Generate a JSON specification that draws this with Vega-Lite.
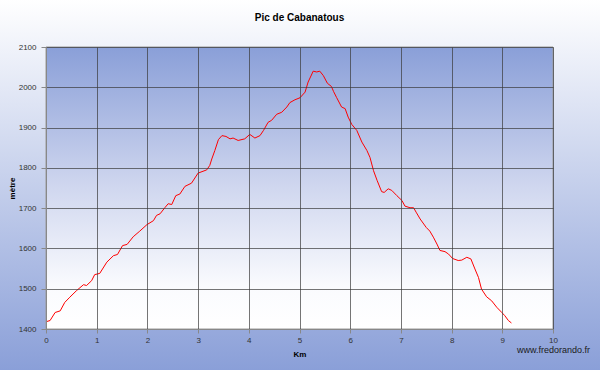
{
  "$schema": "https://vega.github.io/schema/vega-lite/v6.json",
  "width": 507,
  "height": 282,
  "autosize": {"type": "none"},
  "padding": {"left": 46, "top": 47, "right": 47, "bottom": 41},
  "background": "#ffffff",
  "title": {
    "text": "Pic de Cabanatous",
    "fontSize": 10,
    "fontWeight": "bold",
    "font": "Liberation Sans",
    "color": "#000000",
    "anchor": "middle",
    "frame": "group",
    "offset": -24
  },
  "config": {
    "view": {"stroke": null},
    "axis": {
      "labelFont": "Liberation Sans",
      "labelFontSize": 8,
      "labelColor": "#333333",
      "titleFont": "Liberation Sans",
      "titleFontSize": 8,
      "titleFontWeight": "bold",
      "titleColor": "#000000",
      "domainColor": "#888888",
      "tickColor": "#888888",
      "gridColor": "#3a3a3a",
      "gridOpacity": 0.7,
      "gridWidth": 1
    }
  },
  "data": {
    "values": [
      {"km": 0.00, "alt": 1418}, {"km": 0.08, "alt": 1421}, {"km": 0.18, "alt": 1441},
      {"km": 0.28, "alt": 1445}, {"km": 0.37, "alt": 1466}, {"km": 0.47, "alt": 1479},
      {"km": 0.60, "alt": 1495}, {"km": 0.74, "alt": 1510}, {"km": 0.80, "alt": 1508},
      {"km": 0.90, "alt": 1520}, {"km": 0.96, "alt": 1535}, {"km": 1.06, "alt": 1538},
      {"km": 1.20, "alt": 1566}, {"km": 1.33, "alt": 1582}, {"km": 1.41, "alt": 1585},
      {"km": 1.51, "alt": 1607}, {"km": 1.60, "alt": 1610}, {"km": 1.72, "alt": 1629},
      {"km": 1.85, "alt": 1643}, {"km": 1.99, "alt": 1659}, {"km": 2.12, "alt": 1669},
      {"km": 2.18, "alt": 1682}, {"km": 2.25, "alt": 1686}, {"km": 2.35, "alt": 1702},
      {"km": 2.41, "alt": 1711}, {"km": 2.48, "alt": 1709}, {"km": 2.56, "alt": 1731},
      {"km": 2.64, "alt": 1735}, {"km": 2.74, "alt": 1754}, {"km": 2.87, "alt": 1762},
      {"km": 3.00, "alt": 1787}, {"km": 3.17, "alt": 1795}, {"km": 3.23, "alt": 1806},
      {"km": 3.27, "alt": 1822}, {"km": 3.33, "alt": 1843}, {"km": 3.40, "alt": 1870},
      {"km": 3.47, "alt": 1880}, {"km": 3.55, "alt": 1878}, {"km": 3.63, "alt": 1872},
      {"km": 3.69, "alt": 1874}, {"km": 3.79, "alt": 1868}, {"km": 3.92, "alt": 1872},
      {"km": 4.02, "alt": 1883}, {"km": 4.12, "alt": 1874}, {"km": 4.22, "alt": 1880},
      {"km": 4.29, "alt": 1893}, {"km": 4.38, "alt": 1913}, {"km": 4.45, "alt": 1918},
      {"km": 4.55, "alt": 1933}, {"km": 4.65, "alt": 1938}, {"km": 4.75, "alt": 1951},
      {"km": 4.81, "alt": 1962}, {"km": 4.91, "alt": 1969}, {"km": 5.01, "alt": 1974},
      {"km": 5.11, "alt": 1988}, {"km": 5.17, "alt": 2013}, {"km": 5.27, "alt": 2040},
      {"km": 5.34, "alt": 2038}, {"km": 5.40, "alt": 2040}, {"km": 5.47, "alt": 2029},
      {"km": 5.55, "alt": 2010}, {"km": 5.63, "alt": 2002}, {"km": 5.67, "alt": 1990},
      {"km": 5.73, "alt": 1975}, {"km": 5.83, "alt": 1951}, {"km": 5.90, "alt": 1947},
      {"km": 5.96, "alt": 1926}, {"km": 6.03, "alt": 1908}, {"km": 6.13, "alt": 1893},
      {"km": 6.23, "alt": 1864}, {"km": 6.33, "alt": 1843}, {"km": 6.39, "alt": 1826},
      {"km": 6.46, "alt": 1793}, {"km": 6.53, "alt": 1769}, {"km": 6.62, "alt": 1741},
      {"km": 6.67, "alt": 1739}, {"km": 6.75, "alt": 1748}, {"km": 6.82, "alt": 1744},
      {"km": 6.92, "alt": 1731}, {"km": 7.02, "alt": 1719}, {"km": 7.08, "alt": 1705},
      {"km": 7.18, "alt": 1701}, {"km": 7.25, "alt": 1701}, {"km": 7.30, "alt": 1690},
      {"km": 7.38, "alt": 1673}, {"km": 7.50, "alt": 1652}, {"km": 7.57, "alt": 1643},
      {"km": 7.64, "alt": 1628}, {"km": 7.71, "alt": 1611}, {"km": 7.77, "alt": 1595},
      {"km": 7.87, "alt": 1592}, {"km": 7.94, "alt": 1586}, {"km": 8.02, "alt": 1575},
      {"km": 8.13, "alt": 1570}, {"km": 8.20, "alt": 1571}, {"km": 8.30, "alt": 1578},
      {"km": 8.38, "alt": 1574}, {"km": 8.46, "alt": 1549}, {"km": 8.53, "alt": 1528},
      {"km": 8.59, "alt": 1499}, {"km": 8.69, "alt": 1480}, {"km": 8.79, "alt": 1470},
      {"km": 8.89, "alt": 1454}, {"km": 8.99, "alt": 1441}, {"km": 9.05, "alt": 1433},
      {"km": 9.12, "alt": 1421}, {"km": 9.18, "alt": 1415}
    ]
  },
  "layer": [
    {
      "data": {"values": [{}]},
      "mark": {
        "type": "rect",
        "clip": false,
        "fill": {
          "gradient": "linear", "x1": 0, "y1": 0, "x2": 0, "y2": 1,
          "stops": [
            {"offset": 0, "color": "#ffffff"},
            {"offset": 1, "color": "#8a9fd8"}
          ]
        }
      },
      "encoding": {
        "x": {"datum": -0.91, "type": "quantitative"},
        "x2": {"datum": 10.93},
        "y": {"datum": 2218, "type": "quantitative"},
        "y2": {"datum": 1297}
      }
    },
    {
      "data": {"values": [{}]},
      "mark": {
        "type": "rect",
        "stroke": "#9a9a9a",
        "strokeWidth": 1,
        "fill": {
          "gradient": "linear", "x1": 0, "y1": 0, "x2": 0, "y2": 1,
          "stops": [
            {"offset": 0, "color": "#8a9fd8"},
            {"offset": 0.5, "color": "#d0d7ef"},
            {"offset": 0.85, "color": "#fafbfe"},
            {"offset": 1, "color": "#ffffff"}
          ]
        }
      },
      "encoding": {
        "x": {"datum": 0, "type": "quantitative"},
        "x2": {"datum": 10},
        "y": {"datum": 2100, "type": "quantitative"},
        "y2": {"datum": 1400}
      }
    },
    {
      "mark": {"type": "line", "color": "#ff0000", "strokeWidth": 1, "clip": true},
      "encoding": {
        "x": {
          "field": "km", "type": "quantitative",
          "scale": {"domain": [0, 10], "nice": false, "zero": false},
          "axis": {
            "title": "Km",
            "zindex": 1,
            "grid": true,
            "values": [0, 1, 2, 3, 4, 5, 6, 7, 8, 9, 10],
            "tickSize": 4,
            "labelPadding": 3,
            "titlePadding": 6,
            "labelFlush": false
          }
        },
        "y": {
          "field": "alt", "type": "quantitative",
          "scale": {"domain": [1400, 2100], "nice": false, "zero": false},
          "axis": {
            "title": "mètre",
            "zindex": 1,
            "grid": true,
            "format": "d",
            "values": [1400, 1500, 1600, 1700, 1800, 1900, 2000, 2100],
            "tickSize": 5,
            "labelPadding": 5,
            "titlePadding": 2
          }
        }
      }
    },
    {
      "data": {"values": [{}]},
      "mark": {
        "type": "text",
        "clip": false,
        "text": "www.fredorando.fr",
        "align": "right",
        "baseline": "middle",
        "font": "Liberation Sans",
        "fontSize": 9,
        "color": "#1a1a1a"
      },
      "encoding": {
        "x": {"datum": 10.73, "type": "quantitative"},
        "y": {"datum": 1348, "type": "quantitative"}
      }
    }
  ]
}
